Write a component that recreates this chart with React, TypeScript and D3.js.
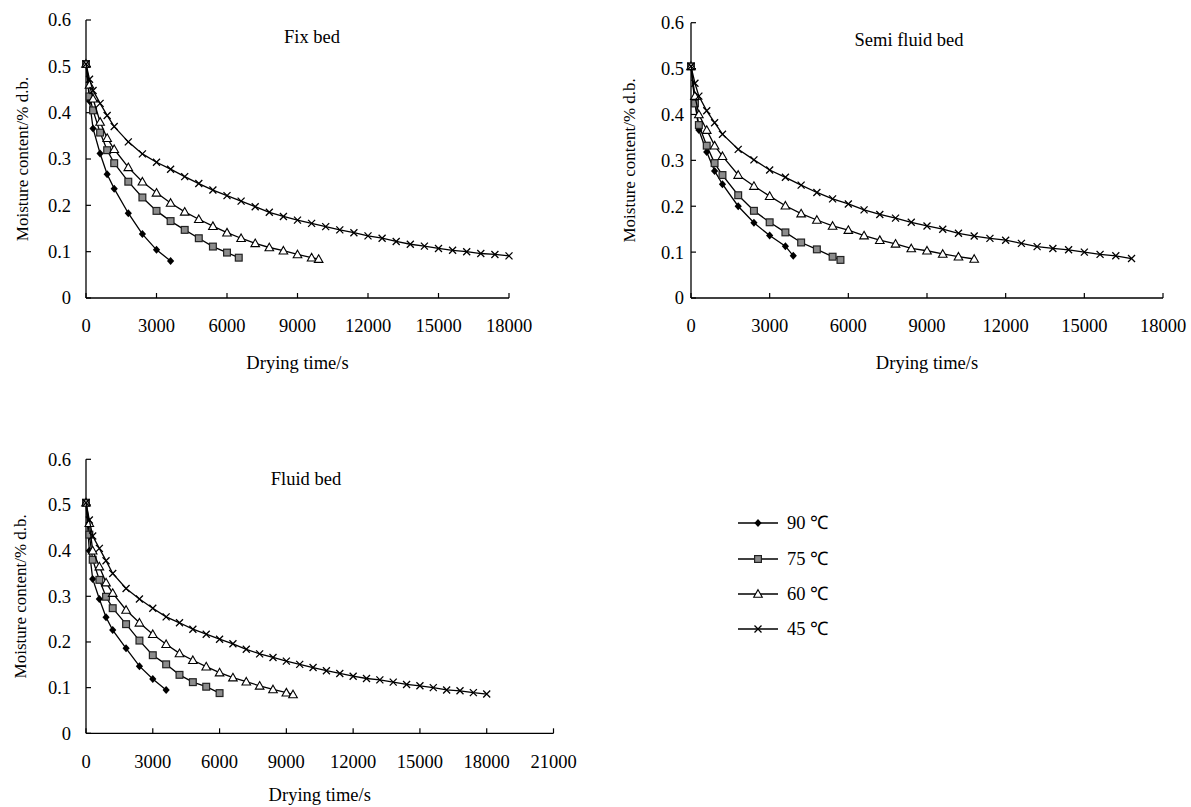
import React from "react";
import * as d3 from "d3";

// ---------- tick labels ----------
const Y_TICKS = [0, 0.1, 0.2, 0.3, 0.4, 0.5, 0.6];
const X_TICKS_18 = [0, 3000, 6000, 9000, 12000, 15000, 18000];
const X_TICKS_21 = [0, 3000, 6000, 9000, 12000, 15000, 18000, 21000];

// ---------- legend ----------
const SERIES_LABELS = ["90 ℃", "75 ℃", "60 ℃", "45 ℃"];
const SERIES_MARKERS = ["diamond", "square", "triangle", "x"];

// ---------- Fix bed ----------
const FIX_T90 = [0, 150, 300, 600, 900, 1200, 1800, 2400, 3000, 3600];
const FIX_M90 = [0.505, 0.425, 0.366, 0.312, 0.267, 0.236, 0.183, 0.138, 0.104, 0.08];
const FIX_T75 = [0, 150, 300, 600, 900, 1200, 1800, 2400, 3000, 3600, 4200, 4800, 5400, 6000, 6500];
const FIX_M75 = [0.505, 0.435, 0.405, 0.357, 0.319, 0.291, 0.251, 0.217, 0.188, 0.166, 0.147, 0.129, 0.111, 0.098, 0.087];
const FIX_T60 = [0, 150, 300, 600, 900, 1200, 1800, 2400, 3000, 3600, 4200, 4800, 5400, 6000, 6600, 7200, 7800, 8400, 9000, 9600, 9900];
const FIX_M60 = [0.505, 0.46, 0.43, 0.38, 0.345, 0.321, 0.282, 0.251, 0.227, 0.205, 0.186, 0.17, 0.155, 0.141, 0.129, 0.118, 0.109, 0.102, 0.094, 0.087, 0.084];
const FIX_T45 = [0, 150, 300, 600, 900, 1200, 1800, 2400, 3000, 3600, 4200, 4800, 5400, 6000, 6600, 7200, 7800, 8400, 9000, 9600, 10200, 10800, 11400, 12000, 12600, 13200, 13800, 14400, 15000, 15600, 16200, 16800, 17400, 18000];
const FIX_M45 = [0.505, 0.472, 0.448, 0.42, 0.394, 0.37, 0.337, 0.311, 0.293, 0.278, 0.262, 0.247, 0.233, 0.221, 0.209, 0.197, 0.185, 0.176, 0.168, 0.161, 0.154, 0.147, 0.141, 0.134, 0.129, 0.122, 0.116, 0.112, 0.107, 0.103, 0.1, 0.096, 0.094, 0.091];

// ---------- Semi fluid bed ----------
const SEMI_T90 = [0, 150, 300, 600, 900, 1200, 1800, 2400, 3000, 3600, 3900];
const SEMI_M90 = [0.505, 0.43, 0.366, 0.318, 0.277, 0.248, 0.2, 0.164, 0.136, 0.113, 0.092];
const SEMI_T75 = [0, 150, 300, 600, 900, 1200, 1800, 2400, 3000, 3600, 4200, 4800, 5400, 5700];
const SEMI_M75 = [0.505, 0.424, 0.377, 0.332, 0.294, 0.268, 0.224, 0.19, 0.165, 0.143, 0.121, 0.106, 0.09, 0.083];
const SEMI_T60 = [0, 150, 300, 600, 900, 1200, 1800, 2400, 3000, 3600, 4200, 4800, 5400, 6000, 6600, 7200, 7800, 8400, 9000, 9600, 10200, 10800];
const SEMI_M60 = [0.505, 0.44, 0.4, 0.366, 0.332, 0.309, 0.268, 0.244, 0.222, 0.201, 0.184, 0.17, 0.157, 0.148, 0.136, 0.126, 0.118, 0.108, 0.103, 0.096, 0.09, 0.085];
const SEMI_T45 = [0, 150, 300, 600, 900, 1200, 1800, 2400, 3000, 3600, 4200, 4800, 5400, 6000, 6600, 7200, 7800, 8400, 9000, 9600, 10200, 10800, 11400, 12000, 12600, 13200, 13800, 14400, 15000, 15600, 16200, 16800];
const SEMI_M45 = [0.505, 0.468, 0.44, 0.408, 0.382, 0.357, 0.324, 0.301, 0.279, 0.263, 0.246, 0.23, 0.216, 0.205, 0.192, 0.182, 0.174, 0.165, 0.157, 0.15, 0.141, 0.135, 0.13, 0.126, 0.119, 0.112, 0.108, 0.105, 0.1, 0.095, 0.092, 0.086];

// ---------- Fluid bed ----------
const FLU_T90 = [0, 150, 300, 600, 900, 1200, 1800, 2400, 3000, 3600];
const FLU_M90 = [0.505, 0.4, 0.338, 0.294, 0.254, 0.226, 0.186, 0.147, 0.119, 0.095];
const FLU_T75 = [0, 150, 300, 600, 900, 1200, 1800, 2400, 3000, 3600, 4200, 4800, 5400, 6000];
const FLU_M75 = [0.505, 0.435, 0.38, 0.336, 0.299, 0.274, 0.239, 0.203, 0.171, 0.151, 0.128, 0.112, 0.102, 0.088];
const FLU_T60 = [0, 150, 300, 600, 900, 1200, 1800, 2400, 3000, 3600, 4200, 4800, 5400, 6000, 6600, 7200, 7800, 8400, 9000, 9300];
const FLU_M60 = [0.505, 0.46, 0.4, 0.365, 0.33, 0.307, 0.27, 0.242, 0.217, 0.195, 0.175, 0.16, 0.146, 0.133, 0.122, 0.113, 0.104, 0.096, 0.089, 0.085];
const FLU_T45 = [0, 150, 300, 600, 900, 1200, 1800, 2400, 3000, 3600, 4200, 4800, 5400, 6000, 6600, 7200, 7800, 8400, 9000, 9600, 10200, 10800, 11400, 12000, 12600, 13200, 13800, 14400, 15000, 15600, 16200, 16800, 17400, 18000];
const FLU_M45 = [0.505, 0.467, 0.432, 0.405, 0.378, 0.35, 0.317, 0.294, 0.274, 0.255, 0.242, 0.228, 0.217, 0.206, 0.196, 0.184, 0.174, 0.166, 0.158, 0.151, 0.144, 0.137, 0.131, 0.125, 0.12, 0.117, 0.112, 0.107, 0.104, 0.1, 0.095, 0.093, 0.089, 0.086];

const FONT = "'Liberation Serif', 'Times New Roman', serif";
const FS_TICK = 18.5;
const FS_TITLE = 18.5;
const FS_YTITLE = 17;

type Panel = {
  title: string;
  xTicks: number[];
  series: [number[], number[]][];
  box: { x0: number; x1: number; yTop: number; yBot: number };
  titlePos: [number, number];
  yLabelGap: number;
  yTitleX: number;
  xTitleOffset: number;
};

const PANELS: Panel[] = [
  {
    title: "Fix bed",
    xTicks: X_TICKS_18,
    series: [[FIX_T90, FIX_M90], [FIX_T75, FIX_M75], [FIX_T60, FIX_M60], [FIX_T45, FIX_M45]],
    box: { x0: 86, x1: 509, yTop: 20, yBot: 298 },
    titlePos: [312, 43],
    yLabelGap: 15,
    yTitleX: 22,
    xTitleOffset: 65,
  },
  {
    title: "Semi fluid bed",
    xTicks: X_TICKS_18,
    series: [[SEMI_T90, SEMI_M90], [SEMI_T75, SEMI_M75], [SEMI_T60, SEMI_M60], [SEMI_T45, SEMI_M45]],
    box: { x0: 691, x1: 1163, yTop: 22.7, yBot: 298 },
    titlePos: [909, 46],
    yLabelGap: 7,
    yTitleX: 629,
    xTitleOffset: 65,
  },
  {
    title: "Fluid bed",
    xTicks: X_TICKS_21,
    series: [[FLU_T90, FLU_M90], [FLU_T75, FLU_M75], [FLU_T60, FLU_M60], [FLU_T45, FLU_M45]],
    box: { x0: 86, x1: 553.5, yTop: 459.3, yBot: 733.3 },
    titlePos: [306, 485],
    yLabelGap: 15,
    yTitleX: 20,
    xTitleOffset: 61,
  },
];

function Marker({ type, x, y }: { type: string; x: number; y: number }) {
  if (type === "diamond")
    return <path d={`M${x},${y - 4}L${x + 3.6},${y}L${x},${y + 4}L${x - 3.6},${y}Z`} fill="#000" />;
  if (type === "square")
    return <rect x={x - 3.4} y={y - 3.4} width={6.8} height={6.8} fill="#8c8c8c" stroke="#222" strokeWidth={1.2} />;
  if (type === "triangle")
    return <path d={`M${x},${y - 4.3}L${x + 4.3},${y + 3.3}L${x - 4.3},${y + 3.3}Z`} fill="#fff" stroke="#000" strokeWidth={1.1} />;
  return (
    <path
      d={`M${x - 3.5},${y - 3.5}L${x + 3.5},${y + 3.5}M${x - 3.5},${y + 3.5}L${x + 3.5},${y - 3.5}`}
      stroke="#000"
      strokeWidth={1.3}
    />
  );
}

function PanelView({ p }: { p: Panel }) {
  const { x0, x1, yTop, yBot } = p.box;
  const xMax = p.xTicks[p.xTicks.length - 1];
  const x = d3.scaleLinear().domain([0, xMax]).range([x0, x1]);
  const y = d3.scaleLinear().domain([0, 0.6]).range([yBot, yTop]);
  const line = d3
    .line<[number, number]>()
    .x((d) => x(d[0]))
    .y((d) => y(d[1]));
  return (
    <g>
      <line x1={x0} x2={x0} y1={yTop} y2={yBot} stroke="#000" strokeWidth={1.3} />
      <line x1={x0} x2={x1} y1={yBot} y2={yBot} stroke="#000" strokeWidth={1.3} />
      {Y_TICKS.map((t) => (
        <g key={"y" + t}>
          <line x1={x0} x2={x0 + 5} y1={y(t)} y2={y(t)} stroke="#000" strokeWidth={1.2} />
          <text x={x0 - p.yLabelGap} y={y(t)} dy="0.35em" textAnchor="end" fontSize={FS_TICK} fontFamily={FONT}>
            {t === 0 ? "0" : t.toFixed(1)}
          </text>
        </g>
      ))}
      {p.xTicks.map((t) => (
        <g key={"x" + t}>
          <line x1={x(t)} x2={x(t)} y1={yBot} y2={yBot - 5} stroke="#000" strokeWidth={1.2} />
          <text x={x(t)} y={yBot + 28} dy="0.35em" textAnchor="middle" fontSize={FS_TICK} fontFamily={FONT}>
            {String(t)}
          </text>
        </g>
      ))}
      <text x={p.titlePos[0]} y={p.titlePos[1]} textAnchor="middle" fontSize={FS_TITLE} fontFamily={FONT}>
        {p.title}
      </text>
      <text
        x={(x0 + x1) / 2}
        y={yBot + p.xTitleOffset}
        dy="0.35em"
        textAnchor="middle"
        fontSize={FS_TITLE}
        fontFamily={FONT}
      >
        Drying time/s
      </text>
      <text
        transform={`translate(${p.yTitleX},${(yTop + yBot) / 2}) rotate(-90)`}
        dy="0.35em"
        textAnchor="middle"
        fontSize={FS_YTITLE}
        fontFamily={FONT}
      >
        Moisture content/% d.b.
      </text>
      {p.series.map(([ts, ms], si) => {
        const pts: [number, number][] = ts.map((t, i) => [t, ms[i]]);
        return (
          <g key={"s" + si}>
            <path d={line(pts) || ""} fill="none" stroke="#000" strokeWidth={1.3} />
            {pts.map((d, i) => (
              <Marker key={i} type={SERIES_MARKERS[si]} x={x(d[0])} y={y(d[1])} />
            ))}
          </g>
        );
      })}
    </g>
  );
}

function Legend() {
  const rowY = [523, 559, 594, 629];
  return (
    <g>
      {SERIES_LABELS.map((lab, i) => (
        <g key={lab}>
          <line x1={738} x2={778} y1={rowY[i]} y2={rowY[i]} stroke="#000" strokeWidth={1.3} />
          <Marker type={SERIES_MARKERS[i]} x={758} y={rowY[i]} />
          <text x={787} y={rowY[i]} dy="0.35em" fontSize={FS_TICK} fontFamily={FONT}>
            {lab}
          </text>
        </g>
      ))}
    </g>
  );
}

export default function App() {
  return (
    <svg width={1191} height={807} style={{ position: "absolute", left: 0, top: 0, background: "#fff" }}>
      <rect width={1191} height={807} fill="#fff" />
      {PANELS.map((p) => (
        <PanelView key={p.title} p={p} />
      ))}
      <Legend />
    </svg>
  );
}
